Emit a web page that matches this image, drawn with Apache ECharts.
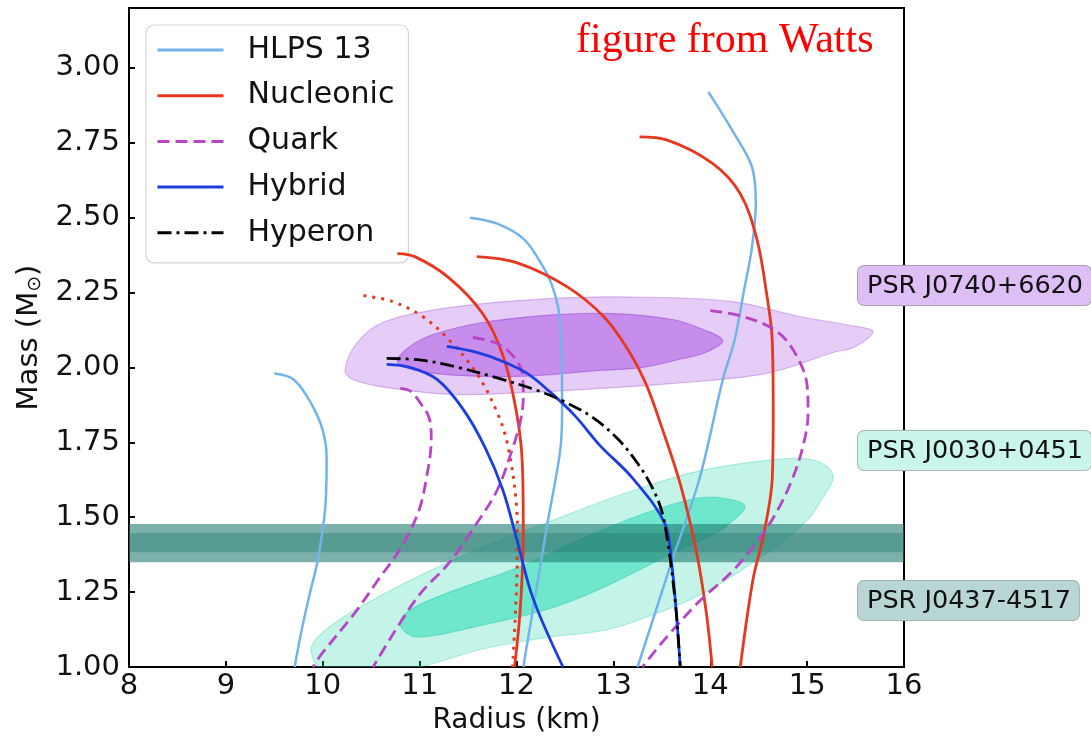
<!DOCTYPE html>
<html>
<head>
<meta charset="utf-8">
<script src="https://cdn.jsdelivr.net/npm/echarts@6/dist/echarts.min.js"></script>
<style>
html,body{margin:0;padding:0;background:#fff;}
#chart{width:1091px;height:743px;}
</style>
</head>
<body>
<div id="chart"></div>
<script>
// ---- axis ticks ----
const xTicks = [8, 9, 10, 11, 12, 13, 14, 15, 16];
const yTicks = [1.00, 1.25, 1.50, 1.75, 2.00, 2.25, 2.50, 2.75, 3.00];
const yMax = 3.2;

// ---- mass-radius curves [radius km, mass Msun] ----
const hlpsSoft = [[9.5,1.98],[9.7,1.96],[9.88,1.88],[10.0,1.79],[10.04,1.70],[10.03,1.55],[9.95,1.36],[9.87,1.25],[9.78,1.12],[9.71,1.0]];
const hlpsMid = [[11.52,2.50],[11.8,2.48],[12.07,2.43],[12.25,2.35],[12.36,2.28],[12.43,2.2],[12.46,2.1],[12.47,2.0],[12.47,1.85],[12.45,1.72],[12.32,1.48],[12.2,1.25],[12.07,1.0]];
const hlpsStiff = [[13.98,2.92],[14.23,2.79],[14.43,2.67],[14.47,2.55],[14.43,2.40],[14.35,2.26],[14.25,2.09],[14.13,1.96],[13.89,1.63],[13.6,1.35],[13.43,1.18],[13.25,1.0]];

const nucSoft = [[10.77,2.38],[10.95,2.37],[11.3,2.30],[11.65,2.18],[11.86,2.04],[12.0,1.85],[12.06,1.68],[12.07,1.45],[12.04,1.2],[11.98,1.0]];
const nucMid = [[11.59,2.37],[12.0,2.35],[12.52,2.27],[12.9,2.17],[13.15,2.06],[13.33,1.95],[13.5,1.8],[13.7,1.6],[13.86,1.38],[13.96,1.18],[14.02,1.0]];
const nucStiff = [[13.27,2.77],[13.55,2.76],[14.03,2.68],[14.31,2.58],[14.48,2.43],[14.58,2.25],[14.64,2.09],[14.65,1.85],[14.64,1.63],[14.55,1.44],[14.44,1.29],[14.31,1.0]];
const nucDotted = [[10.42,2.24],[10.72,2.22],[11.03,2.17],[11.31,2.09],[11.59,1.98],[11.80,1.85],[11.91,1.74],[12.0,1.54],[12.01,1.43],[12.0,1.26],[11.96,1.0]];

const quarkA = [[10.8,1.93],[10.91,1.92],[11.01,1.88],[11.1,1.83],[11.12,1.76],[11.07,1.63],[10.99,1.52],[10.81,1.40],[10.57,1.29],[10.33,1.18],[9.98,1.04],[9.9,1.0]];
const quarkB = [[11.55,2.10],[11.8,2.08],[11.96,2.04],[12.06,1.98],[12.07,1.90],[12.04,1.82],[11.96,1.73],[11.8,1.59],[11.59,1.48],[11.31,1.35],[10.97,1.23],[10.52,1.0]];
const quarkC = [[14.0,2.19],[14.34,2.17],[14.69,2.12],[14.89,2.04],[15.0,1.94],[15.01,1.85],[14.96,1.74],[14.85,1.63],[14.69,1.52],[14.51,1.43],[14.23,1.32],[13.89,1.22],[13.55,1.10],[13.3,1.0]];

const hybridA = [[10.66,2.01],[10.9,2.0],[11.18,1.96],[11.45,1.86],[11.68,1.73],[11.86,1.59],[12.0,1.43],[12.17,1.23],[12.48,1.0]];
const hybridB = [[11.28,2.07],[11.59,2.05],[11.86,2.02],[12.11,1.98],[12.34,1.92],[12.6,1.84],[12.86,1.74],[13.2,1.63],[13.53,1.48],[13.6,1.35],[13.65,1.18],[13.69,1.0]];

const hyperon = [[10.66,2.03],[11.0,2.025],[11.4,2.0],[11.8,1.965],[12.2,1.925],[12.5,1.885],[12.8,1.83],[13.05,1.76],[13.25,1.68],[13.4,1.6],[13.5,1.52],[13.56,1.42],[13.61,1.3],[13.65,1.18],[13.69,1.0]];

// ---- pulsar credible regions (contour outlines) ----
const j0740Outer = [[10.23,1.99],[10.35,2.08],[10.62,2.15],[11.31,2.20],[12.34,2.23],[13.2,2.235],[14.23,2.22],[14.92,2.17],[15.45,2.14],[15.68,2.12],[15.5,2.07],[15.27,2.05],[14.58,1.98],[13.55,1.945],[12.86,1.93],[12.0,1.915],[11.31,1.91],[10.62,1.935],[10.31,1.96]];
const j0740Inner = [[10.77,2.02],[10.9,2.07],[11.14,2.11],[11.65,2.15],[12.34,2.175],[13.0,2.18],[13.61,2.16],[13.9,2.13],[14.13,2.09],[13.95,2.05],[13.72,2.03],[13.3,2.0],[12.86,1.99],[12.0,1.97],[11.31,1.975],[10.9,1.995]];
const j0030Outer = [[9.88,1.05],[9.95,1.10],[10.28,1.18],[10.97,1.30],[11.65,1.40],[12.3,1.48],[12.86,1.55],[13.4,1.61],[13.89,1.655],[14.58,1.69],[15.0,1.695],[15.2,1.67],[15.27,1.63],[15.15,1.56],[15.0,1.49],[14.58,1.38],[13.89,1.24],[13.2,1.15],[12.86,1.12],[12.34,1.10],[11.65,1.06],[11.0,1.0],[10.5,0.98],[10.0,0.99]];
const j0030Inner = [[10.8,1.14],[10.9,1.19],[11.31,1.25],[12.0,1.33],[12.69,1.43],[13.3,1.51],[13.89,1.565],[14.2,1.56],[14.36,1.535],[14.2,1.48],[14.07,1.45],[13.55,1.37],[12.86,1.26],[12.34,1.195],[11.65,1.14],[10.97,1.10]];
const j0437Outer = [1.350, 1.477];
const j0437Inner = [1.383, 1.447];

const pulsarLabels = ['PSR J0740+6620', 'PSR J0030+0451', 'PSR J0437-4517'];
const legendNames = ['HLPS 13', 'Nucleonic', 'Quark', 'Hybrid', 'Hyperon'];

const C_HLPS = '#72b4ea', C_NUC = '#e6371f', C_QUARK = '#b844c6', C_HYB = '#1c3de0', C_HYP = '#000000';
const FONT = '"DejaVu Sans", sans-serif';

function curve(name, data, color, type, width, z) {
  return {
    type: 'line', name: name, data: data, showSymbol: false, symbol: 'none',
    smooth: 0.35, z: z || 5, silent: true, clip: true,
    lineStyle: { color: color, width: width || 2.6, type: type || 'solid', cap: 'butt' },
    itemStyle: { color: color }
  };
}
function contour(name, pts, fill, stroke, z) {
  return {
    type: 'custom', name: name, coordinateSystem: 'cartesian2d', clip: true, silent: true, z: z,
    data: pts,
    renderItem: function (params, api) {
      if (params.dataIndex !== 0) return null;
      return {
        type: 'polygon',
        shape: { points: pts.map(function (p) { return api.coord(p); }), smooth: 0.35 },
        style: { fill: fill, stroke: stroke, lineWidth: 1.2 }
      };
    }
  };
}
function band(name, range, fill, z) {
  return {
    type: 'custom', name: name, coordinateSystem: 'cartesian2d', clip: true, silent: true, z: z,
    data: [[xTicks[0], range[0]]],
    renderItem: function (params, api) {
      const a = api.coord([xTicks[0], range[1]]);
      const b = api.coord([xTicks[xTicks.length - 1], range[0]]);
      return { type: 'rect', shape: { x: a[0], y: a[1], width: b[0] - a[0], height: b[1] - a[1] }, style: { fill: fill } };
    }
  };
}

const chart = echarts.init(document.getElementById('chart'), null, { renderer: 'canvas' });
const option = {
  animation: false,
  backgroundColor: '#ffffff',
  grid: { left: 129, right: 187, top: 8, bottom: 76, show: true, borderColor: '#000', borderWidth: 2, backgroundColor: 'transparent' },
  xAxis: {
    type: 'value', min: xTicks[0], max: xTicks[xTicks.length - 1], interval: 1,
    axisLine: { lineStyle: { color: '#000', width: 2 } },
    axisTick: { inside: true, length: 6, lineStyle: { color: '#000', width: 2 } },
    axisLabel: { fontSize: 29, color: '#111', fontFamily: FONT, margin: 5 },
    splitLine: { show: false },
    name: 'Radius (km)', nameLocation: 'middle', nameGap: 40,
    nameTextStyle: { fontSize: 28, color: '#111', fontFamily: FONT }
  },
  yAxis: {
    type: 'value', min: yTicks[0], max: yMax, interval: 0.25,
    axisLine: { lineStyle: { color: '#000', width: 2 } },
    axisTick: { inside: true, length: 6, lineStyle: { color: '#000', width: 2 } },
    axisLabel: { fontSize: 29, color: '#111', fontFamily: FONT, margin: 9, showMaxLabel: false,
      formatter: function (v) { return yTicks.some(function (t) { return Math.abs(t - v) < 1e-6; }) ? v.toFixed(2) : ''; } },
    splitLine: { show: false },
    name: 'Mass (M{sub|⊙})', nameLocation: 'middle', nameGap: 83,
    nameTextStyle: { fontSize: 29, color: '#111', fontFamily: FONT,
      rich: { sub: { fontSize: 19, fontFamily: FONT, color: '#111', padding: [11, 0, 0, 0] } } }
  },
  legend: {
    data: legendNames, orient: 'vertical', left: 146, top: 25,
    itemWidth: 66, itemHeight: 1, itemGap: 13.7,
    itemStyle: { color: 'rgba(0,0,0,0)', borderColor: 'rgba(0,0,0,0)', borderWidth: 0 },
    lineStyle: { width: 3 },
    textStyle: { fontSize: 30, fontFamily: FONT, color: '#111', lineHeight: 32, padding: [0, 0, 0, 19] },
    backgroundColor: '#ffffff', borderColor: '#d4d4d4', borderWidth: 1.2, borderRadius: 8,
    padding: [9, 14, 14, 10], selectedMode: false
  },
  graphic: [
    { type: 'text', left: 576, top: 20, z: 100,
      style: { text: 'figure from Watts', font: '42px "Liberation Serif", serif', fill: '#ff0000' } },
    { type: 'text', left: 857, top: 265, z: 100,
      style: { text: pulsarLabels[0], font: '25.5px ' + FONT, fill: '#111', backgroundColor: '#ddbff5', borderColor: '#a9a0b0', borderWidth: 1, borderRadius: 6, padding: [7, 8, 6, 9] } },
    { type: 'text', left: 857, top: 430, z: 100,
      style: { text: pulsarLabels[1], font: '25.5px ' + FONT, fill: '#111', backgroundColor: '#c9f5eb', borderColor: '#a8b8b4', borderWidth: 1, borderRadius: 6, padding: [7, 8, 6, 9] } },
    { type: 'text', left: 857, top: 580, z: 100,
      style: { text: pulsarLabels[2], font: '25.5px ' + FONT, fill: '#111', backgroundColor: '#b8d7d4', borderColor: '#9fb0ae', borderWidth: 1, borderRadius: 6, padding: [7, 8, 6, 9] } }
  ],
  series: [
    contour('J0740 outer', j0740Outer, 'rgba(190,130,235,0.40)', 'rgba(175,110,225,0.45)', 1),
    contour('J0740 inner', j0740Inner, 'rgba(175,90,230,0.55)', 'rgba(150,70,210,0.5)', 2),
    contour('J0030 outer', j0030Outer, 'rgba(60,220,180,0.30)', 'rgba(60,210,175,0.35)', 1),
    contour('J0030 inner', j0030Inner, 'rgba(40,220,180,0.55)', 'rgba(40,200,170,0.45)', 2),
    band('J0437 outer', j0437Outer, 'rgba(30,120,110,0.58)', 3),
    band('J0437 inner', j0437Inner, 'rgba(30,120,110,0.39)', 3),

    curve('HLPS 13', hlpsSoft, C_HLPS, 'solid', 2.5),
    curve('HLPS 13', hlpsMid, C_HLPS, 'solid', 2.5),
    curve('HLPS 13', hlpsStiff, C_HLPS, 'solid', 2.5),
    curve('Nucleonic', nucSoft, C_NUC, 'solid', 2.8),
    curve('Nucleonic', nucMid, C_NUC, 'solid', 2.8),
    curve('Nucleonic', nucStiff, C_NUC, 'solid', 2.8),
    curve('Nucleonic (dotted)', nucDotted, C_NUC, [3, 6], 3),
    curve('Quark', quarkA, C_QUARK, [12, 6], 2.8),
    curve('Quark', quarkB, C_QUARK, [12, 6], 2.8),
    curve('Quark', quarkC, C_QUARK, [12, 6], 2.8),
    curve('Hybrid', hybridA, C_HYB, 'solid', 2.8),
    curve('Hybrid', hybridB, C_HYB, 'solid', 2.8),
    curve('Hyperon', hyperon, C_HYP, [14, 5, 3, 5], 2.8, 6)
  ]
};
chart.setOption(option);
</script>
</body>
</html>
